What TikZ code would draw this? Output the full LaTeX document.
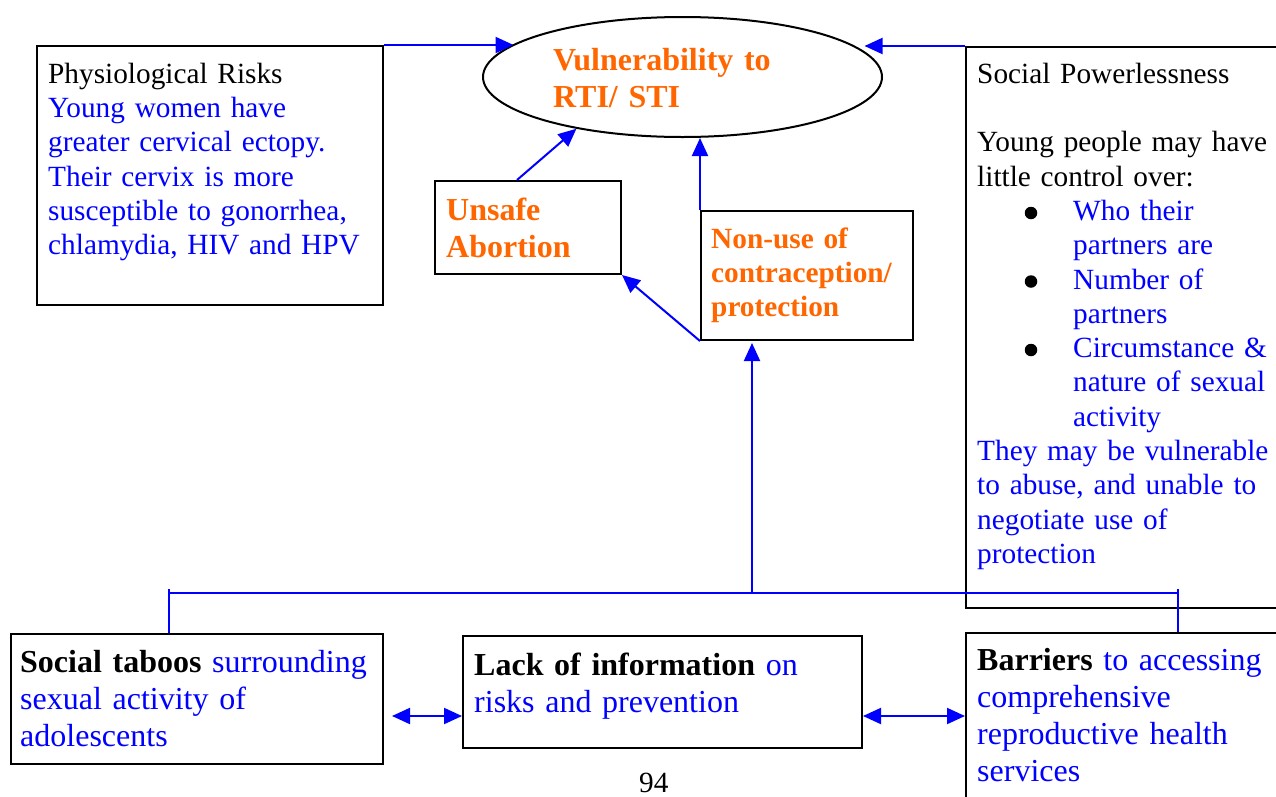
\documentclass[tikz,border=0pt]{standalone}
\usepackage{fontspec}
\setmainfont{Liberation Serif}
\usetikzlibrary{arrows.meta,shapes.geometric}
\definecolor{obl}{RGB}{0,0,255}
\definecolor{oor}{RGB}{255,102,0}
\newcommand\szA{\fontsize{29.3pt}{34.3pt}\selectfont}
\newcommand\szB{\fontsize{32pt}{37pt}\selectfont}
\newcommand\bul[1]{\hspace*{96pt}{\color{obl}#1}}
\newcommand\ind[1]{\hspace*{96pt}{\color{obl}#1}}
\begin{document}
\begin{tikzpicture}[x=1pt,y=-1pt,
 box/.style={draw=black,line width=2pt,rectangle,inner sep=0pt,anchor=north west},
 conn/.style={draw=obl,line width=2pt},
 tip/.tip={Triangle[length=18pt,width=16pt]},
 arr/.style={conn,-tip},
 darr/.style={conn,tip-tip},
 txt/.style={anchor=north west,inner sep=0pt,text width=420pt,align=left,font=\szA},
 dot/.style={fill=black,circle,inner sep=0pt,minimum size=12.5pt},
]
\useasboundingbox (0,0) rectangle (1276,796);
\clip (0,0) rectangle (1276,796);
\fill[white] (0,0) rectangle (1276,796);

% boxes
\node[box,minimum width=346pt,minimum height=259pt] (phys) at (36,45) {};
\node[draw=black,line width=2pt,ellipse,minimum width=399pt,minimum height=120pt,inner sep=0pt] (ell) at (682.5,77) {};
\node[box,minimum width=186pt,minimum height=93pt] (unsafe) at (434,180) {};
\node[box,minimum width=212pt,minimum height=129pt] (nonuse) at (700,210) {};
\node[box,minimum width=400pt,minimum height=561pt] (sp) at (965,46) {};
\node[box,minimum width=372pt,minimum height=130pt] (taboos) at (10,633) {};
\node[box,minimum width=399pt,minimum height=112pt] (lack) at (462,635) {};
\node[box,minimum width=400pt,minimum height=300pt] (barr) at (965,632) {};

% texts
\node[txt] (physT) at (48,59) {\strut Physiological Risks\\\color{obl}Young women have\\greater cervical ectopy.\\Their cervix is more\\susceptible to gonorrhea,\\chlamydia, HIV and HPV};
\node[txt,font=\szB\bfseries,text=oor] (ellT) at (553,44.1) {\strut Vulnerability to\\RTI/ STI};
\node[txt,font=\szB\bfseries,text=oor] (unsafeT) at (446,194.1) {\strut Unsafe\\Abortion};
\node[txt,font=\szA\bfseries,text=oor] (nonuseT) at (711,224) {\strut Non-use of\\contraception/\\protection};
\node[txt] (spT) at (977,59) {\strut Social Powerlessness\\\mbox{}\\Young people may have\\little control over:\\\bul{Who their}\\\ind{partners are}\\\bul{Number of}\\\ind{partners}\\\bul{Circumstance \&}\\\ind{nature of sexual}\\\ind{activity}\\\color{obl}They may be vulnerable\\to abuse, and unable to\\negotiate use of\\protection};
\node[dot] (b1) at (1031,213) {};
\node[dot] (b2) at (1031,281.5) {};
\node[dot] (b3) at (1031,350) {};
\node[txt,font=\szB] (taboosT) at (20,646.1) {\strut\textbf{Social taboos} \color{obl}surrounding\\sexual activity of\\adolescents};
\node[txt,font=\szB] (lackT) at (474,649.1) {\strut\textbf{Lack of information} \color{obl}on\\risks and prevention};
\node[txt,font=\szB] (barrT) at (977,644.6) {\strut\textbf{Barriers} \color{obl}to accessing\\comprehensive\\reproductive health\\services};
\node[anchor=base west,inner sep=0pt,font=\szA] (pg) at (639,792) {94};

% connectors
\draw[arr] (phys.north east) -- (phys.north east -| ell.169.7);
\draw[arr] (sp.north west) -- (sp.north west -| ell.8);
\draw[arr] ([xshift=-11pt]unsafe.north) -- (ell.206.5);
\draw[arr] (nonuse.north west) -- (nonuse.north west |- ell.south);
\draw[arr] (nonuse.south west) -- (unsafe.south east);

\coordinate (jl) at (169,593);
\coordinate (jr) at (1178,593);
\coordinate (jm) at (752,593);
\draw[conn] (jl) -- (jr);
\draw[conn] (taboos.north -| jl) -- ([yshift=4pt]jl);
\draw[conn] (barr.north -| jr) -- ([yshift=4pt]jr);
\draw[arr] (jm) -- ([yshift=-2pt]jm |- nonuse.south);

\coordinate (ya) at (0,716);
\draw[darr] ([xshift=8pt]taboos.east |- ya) -- (lack.west |- ya);
\draw[darr] (lack.east |- ya) -- (barr.west |- ya);
\end{tikzpicture}
\end{document}
